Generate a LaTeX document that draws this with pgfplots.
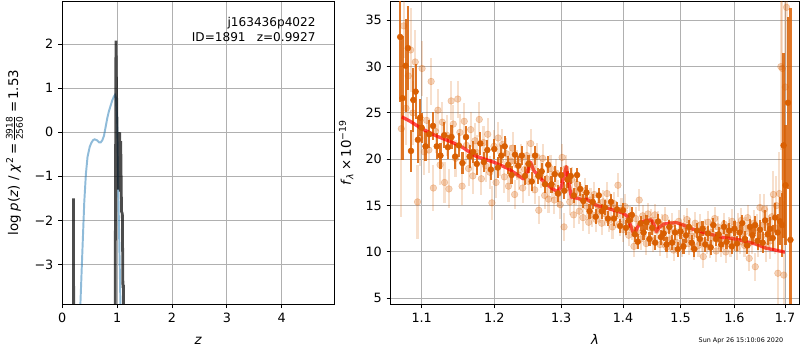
\documentclass[border=0pt]{standalone}
\usepackage{fontspec}
\setmainfont{DejaVu Sans}
\usepackage{pgfplots}
\pgfplotsset{compat=1.18}
\usepackage{pgfplotstable}
\definecolor{gridc}{HTML}{B0B0B0}
\definecolor{org}{RGB}{217,95,2}
\definecolor{mplblue}{HTML}{1F77B4}

\pgfplotstableread{
z p
0.30 -5.2
0.33 -3.9
0.36 -2.9
0.40 -1.6
0.43 -0.95
0.46 -0.56
0.50 -0.33
0.53 -0.24
0.56 -0.18
0.59 -0.16
0.63 -0.18
0.67 -0.23
0.70 -0.23
0.73 -0.18
0.76 -0.08
0.79 0.12
0.82 0.32
0.85 0.48
0.88 0.60
0.91 0.72
0.94 0.81
0.96 0.85
0.98 0.78
1.00 0.30
1.015 -0.80
1.03 -1.90
1.045 -2.90
1.06 -3.90
1.08 -5.50
}\bluedata

\pgfplotstableread{
z p
0.10 -10
0.20 -10
0.205 -1.5
0.21 -10
0.95 -10
0.978 2.08
0.99 0.8
1.005 -0.6
1.02 -1.3
1.045 0.0
1.055 -1.35
1.065 -0.2
1.08 -1.8
1.095 -1.85
1.105 -3.5
1.115 -3.5
1.125 -10
1.30 -10
}\darkline

\pgfplotstableread{
l f e
1.0735 23.3 9.5
1.0765 34.4 3.5
1.0795 25.5 4.0
1.0825 29.0 5.0
1.0855 31.8 4.5
1.0885 25.0 3.5
1.0915 30.5 3.5
1.0945 15.4 4.0
1.0975 22.3 3.0
1.1005 29.8 3.0
1.1035 20.8 2.5
1.1065 24.2 2.5
1.1095 21.0 2.5
1.1125 28.4 2.5
1.1155 16.9 2.5
1.1185 23.0 2.3
1.1215 25.3 2.3
1.1245 19.4 2.2
1.1275 24.0 2.2
1.1305 17.5 2.2
1.1335 22.6 2.2
1.1365 16.8 2.1
1.1395 26.3 2.1
1.1425 23.8 2.1
1.1455 20.1 2.0
1.1485 26.5 2.0
1.1515 22.9 2.0
1.1545 17.1 2.0
1.1575 24.1 2.0
1.1605 21.5 2.0
1.1635 19.0 1.9
1.1665 23.2 1.9
1.1695 18.2 1.9
1.1725 22.0 1.9
1.1755 20.7 1.9
1.1785 24.3 1.9
1.1815 17.9 1.8
1.1845 21.8 1.8
1.1875 19.3 1.8
1.1905 22.7 1.8
1.1935 18.6 1.8
1.1965 15.3 1.8
1.1995 21.4 1.8
1.2025 17.5 1.7
1.2055 22.3 1.7
1.2085 19.9 1.7
1.2115 21.6 1.7
1.2145 18.1 1.7
1.2175 20.6 1.7
1.2205 17.1 1.7
1.2235 19.8 1.7
1.2265 21.2 1.7
1.2295 16.2 1.6
1.2325 19.4 1.6
1.2355 18.3 1.6
1.2385 20.1 1.6
1.2415 16.9 1.6
1.2445 18.9 1.6
1.2475 20.4 1.6
1.2505 17.6 1.6
1.2535 21.7 1.6
1.2565 19.1 1.6
1.2595 16.7 1.5
1.2625 20.3 1.5
1.2655 14.5 1.5
1.2685 18.4 1.5
1.2715 20.1 1.5
1.2745 16.1 1.5
1.2775 17.9 1.5
1.2805 15.7 1.5
1.2835 19.0 1.5
1.2865 17.2 1.5
1.2895 15.6 1.5
1.2925 18.5 1.5
1.2955 16.3 1.5
1.2985 15.1 1.5
1.3015 20.2 1.5
1.3045 12.7 1.5
1.3075 19.0 1.5
1.3105 17.0 1.4
1.3135 15.4 1.4
1.3165 17.8 1.4
1.3195 14.0 1.4
1.3225 16.5 1.4
1.3255 17.3 1.4
1.3285 14.4 1.4
1.3315 15.9 1.4
1.3345 13.7 1.4
1.3375 16.6 1.4
1.3405 14.9 1.4
1.3435 13.2 1.3
1.3465 15.6 1.3
1.3495 14.0 1.3
1.3525 16.2 1.3
1.3555 13.5 1.3
1.3585 15.0 1.3
1.3615 14.4 1.3
1.3645 13.1 1.3
1.3675 15.4 1.3
1.3705 14.1 1.3
1.3735 16.3 1.3
1.3765 13.4 1.3
1.3795 14.8 1.3
1.3825 12.7 1.3
1.3855 15.2 1.3
1.3885 13.9 1.3
1.3915 17.2 1.3
1.3945 13.0 1.3
1.3975 14.5 1.3
1.4005 12.4 1.3
1.4035 14.9 1.3
1.4065 13.3 1.2
1.4095 11.8 1.2
1.4125 13.8 1.2
1.4155 12.5 1.2
1.4185 10.6 1.2
1.4215 13.6 1.2
1.4245 12.1 1.2
1.4275 15.6 1.2
1.4305 11.4 1.2
1.4335 13.9 1.2
1.4365 12.8 1.2
1.4395 10.9 1.2
1.4425 14.1 1.2
1.4455 12.6 1.2
1.4485 13.4 1.2
1.4515 11.2 1.2
1.4545 14.0 1.2
1.4575 12.3 1.2
1.4605 13.2 1.2
1.4635 10.8 1.2
1.4665 12.9 1.2
1.4695 11.6 1.2
1.4725 13.7 1.2
1.4755 10.5 1.2
1.4785 12.4 1.2
1.4815 11.3 1.2
1.4845 13.0 1.2
1.4875 10.2 1.2
1.4905 12.2 1.2
1.4935 11.0 1.2
1.4965 13.3 1.2
1.4995 12.0 1.2
1.5025 10.6 1.2
1.5055 12.8 1.2
1.5085 11.4 1.2
1.5115 13.5 1.2
1.5145 10.9 1.2
1.5175 12.5 1.2
1.5205 11.7 1.2
1.5235 10.3 1.2
1.5265 13.1 1.2
1.5295 11.9 1.2
1.5325 10.7 1.2
1.5355 12.9 1.2
1.5385 11.2 1.2
1.5415 9.5 1.2
1.5445 12.4 1.2
1.5475 11.0 1.2
1.5505 13.2 1.2
1.5535 10.5 1.2
1.5565 12.1 1.2
1.5595 11.5 1.2
1.5625 13.6 1.2
1.5655 10.1 1.2
1.5685 12.7 1.2
1.5715 11.3 1.2
1.5745 10.6 1.2
1.5775 12.3 1.2
1.5805 13.0 1.2
1.5835 10.0 1.2
1.5865 11.8 1.2
1.5895 12.6 1.2
1.5925 10.8 1.3
1.5955 13.3 1.3
1.5985 11.4 1.3
1.6015 12.2 1.3
1.6045 10.4 1.3
1.6075 12.9 1.3
1.6105 11.1 1.3
1.6135 13.4 1.3
1.6165 11.9 1.3
1.6195 10.7 1.3
1.6225 12.5 1.3
1.6255 13.7 1.4
1.6285 9.3 1.4
1.6315 12.0 1.4
1.6345 11.2 1.4
1.6375 13.1 1.4
1.6405 8.4 1.5
1.6435 12.6 1.5
1.6465 10.9 1.5
1.6495 14.8 1.5
1.6525 11.6 1.6
1.6555 12.9 1.6
1.6585 14.6 1.7
1.6615 10.6 1.7
1.6645 13.3 1.8
1.6675 12.1 1.9
1.6705 11.2 2.0
1.6735 13.8 2.2
1.6765 16.2 2.5
1.6795 12.6 2.8
1.6825 15.0 3.2
1.6855 7.7 3.8
1.6885 16.3 4.5
1.6915 30.0 9.0
1.6945 29.8 12.0
1.6975 7.5 8.0
1.7005 27.8 12.0
1.7030 36.4 10.0
}\lightdata

\pgfplotstableread{
l f e
1.072 33.2 7.0
1.075 26.6 6.7
1.079 30.1 5.0
1.082 32.0 4.5
1.086 20.9 2.3
1.089 26.4 3.5
1.092 27.3 3.0
1.095 22.1 2.5
1.098 24.5 2.0
1.100 23.4 1.6
1.105 21.4 1.6
1.110 22.7 1.5
1.115 23.6 1.5
1.120 21.4 1.4
1.125 20.4 1.4
1.130 22.6 1.4
1.135 21.3 1.3
1.140 22.4 1.3
1.145 20.3 1.3
1.150 21.5 1.3
1.155 19.6 1.2
1.160 22.4 1.2
1.165 20.3 1.2
1.170 20.8 1.2
1.175 19.5 1.2
1.180 21.7 1.2
1.185 19.7 1.1
1.190 21.0 1.1
1.195 18.9 1.1
1.200 21.1 1.1
1.205 19.1 1.1
1.210 20.4 1.1
1.215 21.4 1.1
1.220 19.4 1.0
1.225 18.3 1.0
1.230 20.5 1.0
1.235 19.3 1.0
1.240 20.4 1.0
1.245 18.2 1.0
1.250 19.5 1.0
1.255 17.6 1.0
1.260 20.4 1.0
1.265 18.2 0.9
1.270 18.7 0.9
1.275 17.3 0.9
1.280 19.4 0.9
1.285 17.3 0.9
1.290 18.4 0.9
1.295 16.3 0.9
1.300 18.3 0.9
1.305 16.6 0.9
1.310 17.8 0.9
1.315 18.2 0.9
1.320 16.1 0.8
1.325 18.3 0.8
1.330 16.8 0.8
1.335 15.5 0.8
1.340 16.4 0.8
1.345 14.4 0.8
1.350 15.4 0.8
1.355 13.8 0.8
1.360 16.1 0.8
1.365 14.4 0.8
1.370 14.8 0.8
1.375 13.6 0.8
1.380 15.4 0.8
1.385 13.6 0.8
1.390 14.6 0.8
1.395 12.8 0.8
1.400 14.5 0.8
1.405 12.6 0.8
1.410 13.4 0.8
1.415 14.0 0.8
1.420 11.9 0.8
1.425 11.1 0.8
1.430 13.1 0.8
1.435 12.1 0.8
1.440 13.2 0.8
1.445 11.4 0.8
1.450 12.6 0.8
1.455 11.0 0.8
1.460 13.3 0.8
1.465 11.6 0.8
1.470 12.0 0.8
1.475 10.8 0.8
1.480 12.7 0.8
1.485 11.0 0.8
1.490 12.1 0.8
1.495 10.3 0.8
1.500 12.2 0.8
1.505 10.6 0.8
1.510 11.8 0.8
1.515 12.7 0.8
1.520 11.0 0.8
1.525 10.3 0.8
1.530 12.3 0.8
1.535 11.4 0.8
1.540 12.5 0.8
1.545 10.8 0.8
1.550 12.0 0.8
1.555 10.5 0.8
1.560 12.9 0.8
1.565 11.4 0.8
1.570 11.9 0.8
1.575 10.8 0.8
1.580 12.7 0.8
1.585 11.1 0.8
1.590 12.3 0.8
1.595 10.6 0.8
1.600 12.5 0.8
1.605 10.9 0.8
1.610 12.1 0.8
1.615 13.1 0.9
1.620 11.4 0.9
1.625 10.7 0.9
1.630 12.7 0.9
1.635 11.8 0.9
1.640 12.9 1.0
1.645 11.2 1.0
1.650 12.4 1.0
1.655 11.0 1.1
1.660 13.4 1.1
1.665 11.9 1.2
1.670 12.5 1.3
1.675 11.5 1.4
1.680 13.7 1.6
1.685 12.1 2.0
1.690 13.3 2.6
1.694 12.9 3.5
1.697 21.5 10.0
1.701 17.2 6.5
1.706 26.1 9.3
1.711 11.3 25.0
}\darkdata

\pgfplotstableread{
l f
1.074 24.58
1.085 24.10
1.100 23.30
1.120 22.50
1.139 21.90
1.155 21.30
1.171 20.45
1.175 20.30
1.200 19.66
1.220 19.00
1.238 18.10
1.242 17.90
1.248 18.60
1.253 19.70
1.258 18.80
1.270 17.80
1.285 16.90
1.294 16.50
1.300 17.00
1.308 19.20
1.311 17.80
1.316 15.90
1.325 15.80
1.335 15.60
1.340 15.70
1.357 15.00
1.380 14.60
1.400 14.20
1.408 13.80
1.414 12.60
1.419 11.80
1.424 12.60
1.430 13.20
1.440 13.40
1.449 13.45
1.453 12.90
1.457 12.20
1.463 12.70
1.470 13.00
1.480 13.10
1.493 13.16
1.505 12.90
1.520 12.50
1.548 12.00
1.565 11.75
1.579 11.54
1.595 11.45
1.610 11.30
1.630 11.00
1.643 10.83
1.662 10.40
1.680 10.20
1.700 9.97
}\modeldata

\pgfplotsset{mpl/.style={
  scale only axis, anchor=south west,
  axis line style={line width=0.66pt},
  every tick/.style={black, line width=0.66pt},
  major tick length=2.9pt,
  tick align=outside, tick pos=left,
  grid=major, grid style={gridc, line width=0.66pt},
  tick label style={font=\fontsize{9.2}{11}\selectfont},
  label style={font=\fontsize{9.6}{11}\selectfont},
  xminorticks=false, yminorticks=false,
}}

\begin{document}
\begin{tikzpicture}
\useasboundingbox (0,0) rectangle (576pt,252pt);
\begin{axis}[mpl, at={(44.86pt,33.12pt)}, width=195.84pt, height=217.8pt,
  xmin=0, xmax=4.96, ymin=-3.9, ymax=2.97,
  xtick={0,1,2,3,4}, xticklabels={0,1,2,3,4},
  ytick={-3,-2,-1,0,1,2}, yticklabels={−3,−2,−1,0,1,2},
  xlabel={\textit{z}},
  xlabel style={at={(axis description cs:0.5,-0.1355)}, anchor=base},
  ylabel={log \textit{p}(\textit{z}) / \textit{χ}\textsuperscript{2}\,=\,$\frac{\mbox{\fontsize{6.5}{6.5}\selectfont 3918}}{\mbox{\fontsize{6.5}{6.5}\selectfont 2560}}$\,=\,1.53},
  ylabel style={at={(axis description cs:-0.176,0.5)}, anchor=center},
]
\addplot[mplblue, opacity=0.5, line width=1.4pt] table[x=z, y=p] {\bluedata};
\addplot[black, opacity=0.7, line width=2pt, line join=miter] table[x=z, y=p] {\darkline};
\node[anchor=north east, align=right, font=\fontsize{8.7}{10.8}\selectfont] at (rel axis cs:0.949,0.965) {j163436p4022\\ID=1891\hspace{8pt}z=0.9927};
\end{axis}

\begin{axis}[mpl, at={(281.3pt,33.12pt)}, width=294.2pt, height=217.8pt,
  xmode=log, xmin=1.0599, xmax=1.7293, ymin=4.38, ymax=37.03,
  xtick={1.1,1.2,1.3,1.4,1.5,1.6,1.7}, xticklabels={1.1,1.2,1.3,1.4,1.5,1.6,1.7},
  ytick={5,10,15,20,25,30,35}, yticklabels={5,10,15,20,25,30,35},
  xlabel={\textit{λ}},
  xlabel style={at={(axis description cs:0.5,-0.1355)}, anchor=base},
  ylabel={\textit{f}\textsubscript{\textit{λ}}\,×\,10\textsuperscript{−19}},
  ylabel style={at={(axis description cs:-0.109,0.5)}, anchor=center},
]
\addplot[org, only marks, mark=*, mark size=2.4pt, mark options={fill=org, draw=org, opacity=0.28},
  error bars/.cd, y dir=both, y explicit, error mark=none,
  error bar style={line width=1.5pt, color=org, opacity=0.2}]
  table[x=l, y=f, y error=e] {\lightdata};
\addplot[org, only marks, mark=*, mark size=2.1pt, mark options={fill=org, draw=org},
  error bars/.cd, y dir=both, y explicit, error mark=none,
  error bar style={line width=1.6pt, color=org, opacity=0.85}]
  table[x=l, y=f, y error=e] {\darkdata};
\addplot[red, opacity=0.7, line width=2.4pt, line join=round] table[x=l, y=f] {\modeldata};
\end{axis}
\node[anchor=base east, font=\fontsize{4.6}{5}\selectfont] at (567.4pt,5.76pt) {Sun Apr 26 15:10:06 2020};
\end{tikzpicture}
\end{document}
